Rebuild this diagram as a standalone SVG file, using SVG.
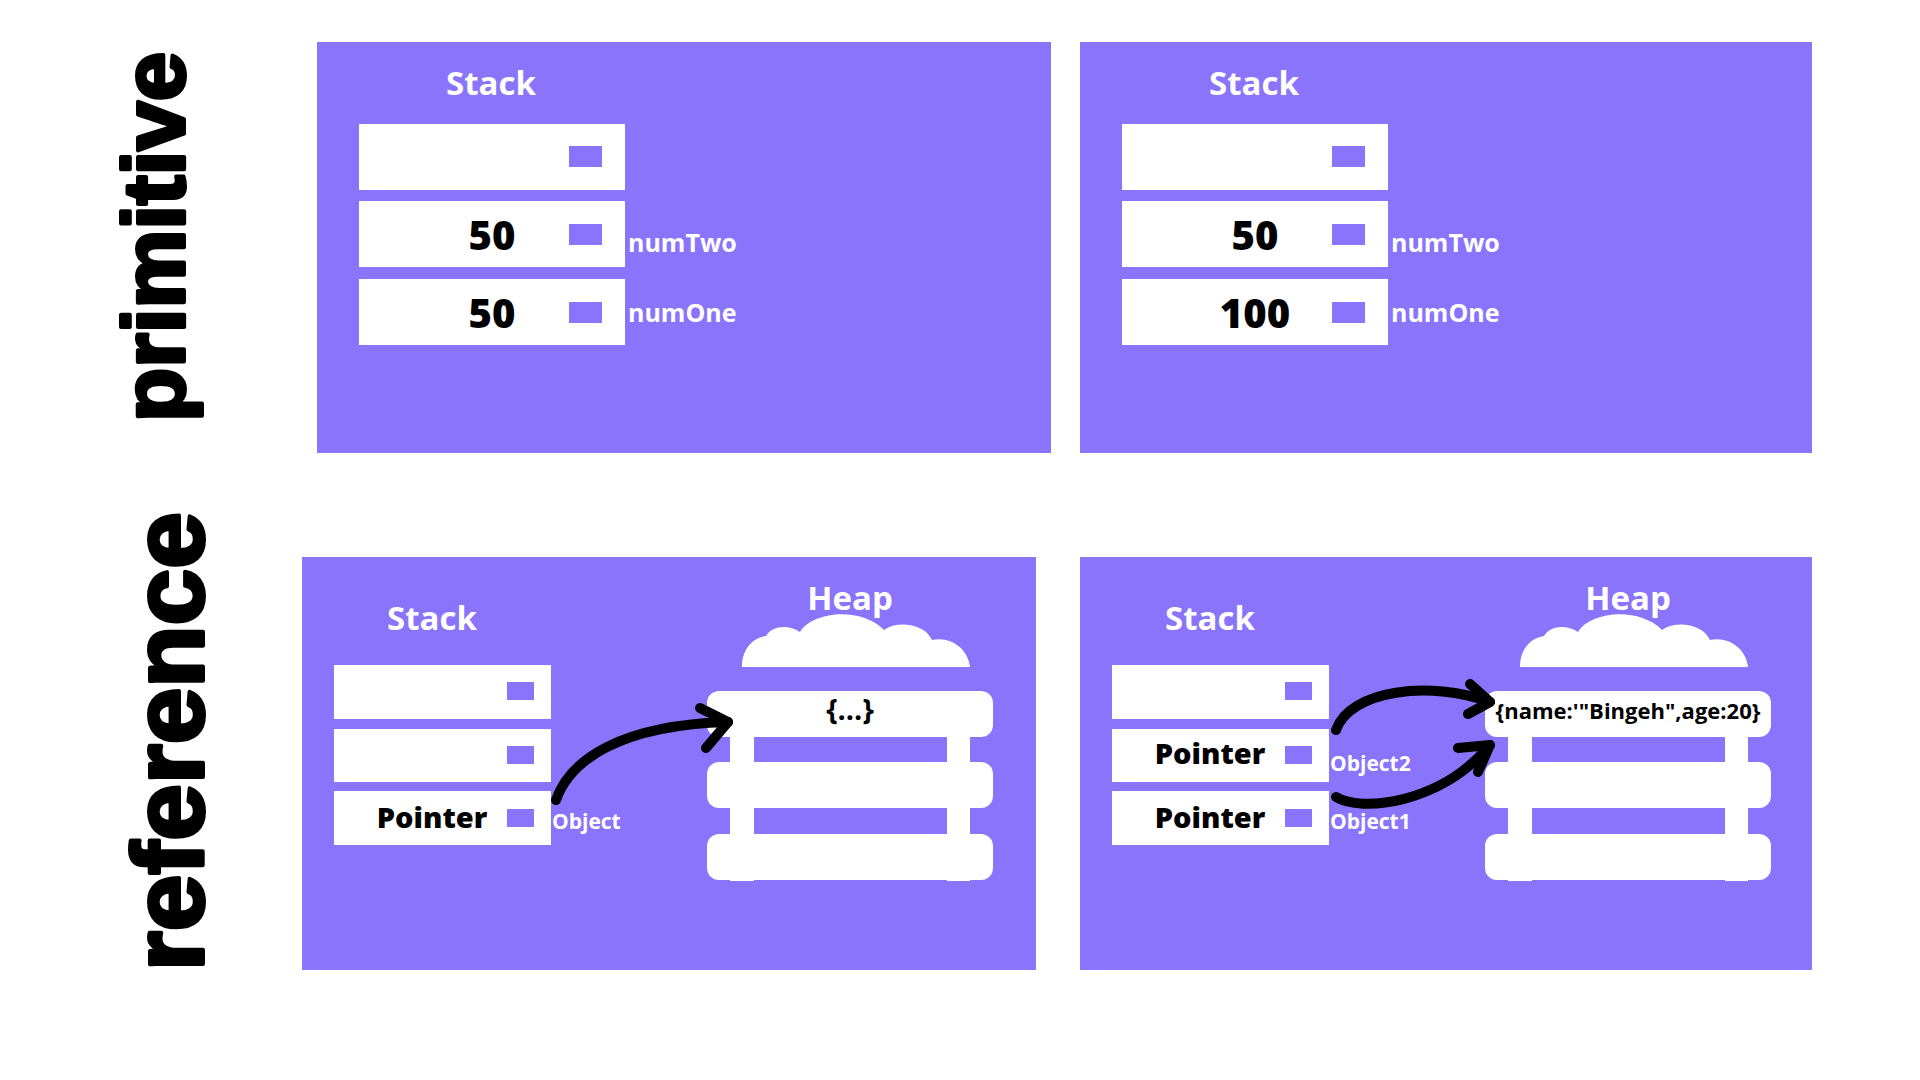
<svg xmlns="http://www.w3.org/2000/svg" width="1920" height="1080" viewBox="0 0 1920 1080">
<style>
.panel{fill:#8b74fc}
.cell{fill:#ffffff}
.sq{fill:#8b74fc}
.title{font-family:"Open Sans","Liberation Sans",sans-serif;font-weight:700;font-size:33px;fill:#ffffff;text-anchor:middle}
.val{font-family:"Open Sans","Liberation Sans",sans-serif;font-weight:800;font-size:40px;fill:#000000;text-anchor:middle}
.ptr{font-family:"Open Sans","Liberation Sans",sans-serif;font-weight:800;font-size:29px;fill:#000000;text-anchor:middle}
.lbl{font-family:"Open Sans","Liberation Sans",sans-serif;font-weight:700;font-size:25px;fill:#ffffff}
.olbl{font-family:"Open Sans","Liberation Sans",sans-serif;font-weight:700;font-size:21px;fill:#ffffff}
.obj{font-family:"Open Sans","Liberation Sans",sans-serif;font-weight:700;fill:#000000;text-anchor:middle}
.side{font-family:"Liberation Sans","Arial",sans-serif;font-weight:700;fill:#000000;stroke:#000000;stroke-width:4;stroke-linejoin:round}
.arrow{fill:none;stroke:#000000;stroke-width:10;stroke-linecap:round;stroke-linejoin:round}
</style>
<defs>
<path id="cloud" d="M0,49 C0,32 10,20 24,18 C30,8 46,6 58,14 C70,-6 118,-12 142,12 C156,2 183,6 190,22 C208,18 226,30 228,49 Z" fill="#ffffff"/>
<g id="shelves">
<rect x="23" y="30" width="24" height="160" fill="#ffffff"/>
<rect x="240" y="30" width="23" height="160" fill="#ffffff"/>
<rect x="0" y="0" width="286" height="46" rx="12" fill="#ffffff"/>
<rect x="0" y="71" width="286" height="46" rx="12" fill="#ffffff"/>
<rect x="0" y="143" width="286" height="46" rx="12" fill="#ffffff"/>
</g>
</defs>
<rect width="1920" height="1080" fill="#ffffff"/>

<g id="label-primitive">
<text class="side" transform="translate(184,422) rotate(-90)" font-size="88" textLength="370" lengthAdjust="spacingAndGlyphs">primitive</text>
</g>
<g id="label-reference">
<text class="side" transform="translate(203,971) rotate(-90)" font-size="100" textLength="459" lengthAdjust="spacingAndGlyphs">reference</text>
</g>

<g id="panel-primitive-1">
<rect class="panel" x="317" y="42" width="734" height="411"/>
<text class="title" x="491" y="95">Stack</text>
<rect class="cell" x="359" y="124" width="266" height="66"/>
<rect class="sq" x="569" y="146" width="33" height="21"/>
<rect class="cell" x="359" y="201" width="266" height="66"/>
<rect class="sq" x="569" y="224" width="33" height="21"/>
<text class="val" x="492" y="250">50</text>
<text class="lbl" x="628" y="252">numTwo</text>
<rect class="cell" x="359" y="279" width="266" height="66"/>
<rect class="sq" x="569" y="302" width="33" height="21"/>
<text class="val" x="492" y="328">50</text>
<text class="lbl" x="628" y="322">numOne</text>
</g>

<g id="panel-primitive-2">
<rect class="panel" x="1080" y="42" width="732" height="411"/>
<text class="title" x="1254" y="95">Stack</text>
<rect class="cell" x="1122" y="124" width="266" height="66"/>
<rect class="sq" x="1332" y="146" width="33" height="21"/>
<rect class="cell" x="1122" y="201" width="266" height="66"/>
<rect class="sq" x="1332" y="224" width="33" height="21"/>
<text class="val" x="1255" y="250">50</text>
<text class="lbl" x="1391" y="252">numTwo</text>
<rect class="cell" x="1122" y="279" width="266" height="66"/>
<rect class="sq" x="1332" y="302" width="33" height="21"/>
<text class="val" x="1255" y="328">100</text>
<text class="lbl" x="1391" y="322">numOne</text>
</g>

<g id="panel-reference-1">
<rect class="panel" x="302" y="557" width="734" height="413"/>
<text class="title" x="432" y="630">Stack</text>
<rect class="cell" x="334" y="665" width="217" height="54"/>
<rect class="sq" x="507" y="682" width="27" height="18"/>
<rect class="cell" x="334" y="729" width="217" height="53"/>
<rect class="sq" x="507" y="746" width="27" height="18"/>
<rect class="cell" x="334" y="791" width="217" height="54"/>
<rect class="sq" x="507" y="809" width="27" height="18"/>
<text class="ptr" x="432" y="828">Pointer</text>
<text class="olbl" x="552" y="829">Object</text>
<text class="title" x="850" y="610">Heap</text>
<use href="#cloud" x="742" y="618"/>
<use href="#shelves" x="707" y="691"/>
<text class="obj" x="850" y="720" font-size="29">{...}</text>
</g>

<g id="panel-reference-2">
<rect class="panel" x="1080" y="557" width="732" height="413"/>
<text class="title" x="1210" y="630">Stack</text>
<rect class="cell" x="1112" y="665" width="217" height="54"/>
<rect class="sq" x="1285" y="682" width="27" height="18"/>
<rect class="cell" x="1112" y="729" width="217" height="53"/>
<rect class="sq" x="1285" y="746" width="27" height="18"/>
<text class="ptr" x="1210" y="764">Pointer</text>
<text class="olbl" x="1330" y="771">Object2</text>
<rect class="cell" x="1112" y="791" width="217" height="54"/>
<rect class="sq" x="1285" y="809" width="27" height="18"/>
<text class="ptr" x="1210" y="828">Pointer</text>
<text class="olbl" x="1330" y="829">Object1</text>
<text class="title" x="1628" y="610">Heap</text>
<use href="#cloud" x="1520" y="618"/>
<use href="#shelves" x="1485" y="691"/>
<text class="obj" x="1628" y="719" font-size="22">{name:'"Bingeh",age:20}</text>
</g>

<g id="connectors">
<path class="arrow" d="M556,800 C570,760 620,725 728,722"/>
<path class="arrow" d="M700,708 L728,722 L706,748"/>
<path class="arrow" d="M1336,730 C1350,690 1430,680 1490,702"/>
<path class="arrow" d="M1470,684 L1490,702 L1468,714"/>
<path class="arrow" d="M1336,797 C1360,812 1440,805 1490,745"/>
<path class="arrow" d="M1458,748 L1490,745 L1478,772"/>
</g>
</svg>
